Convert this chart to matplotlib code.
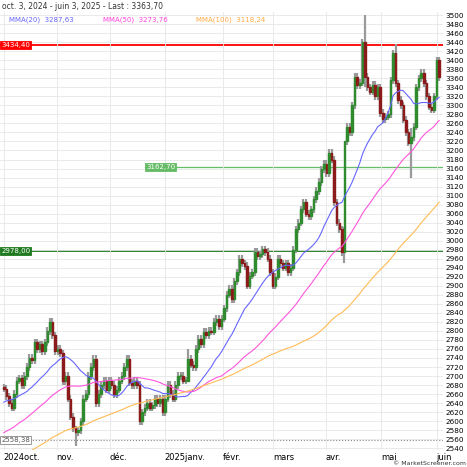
import numpy as np
import pandas as pd
from matplotlib import pyplot as plt
from matplotlib.patches import Rectangle

# closes before the visible window (only used to seed the moving averages)
history = [2410, 2420, 2405, 2395, 2415, 2430, 2425, 2440, 2435, 2420,
           2410, 2400, 2415, 2430, 2445, 2440, 2425, 2410, 2420, 2435,
           2450, 2445, 2430, 2420, 2410, 2425, 2440, 2455, 2450, 2440,
           2430, 2445, 2460, 2455, 2440, 2430, 2420, 2435, 2450, 2465,
           2470, 2460, 2450, 2440, 2455, 2470, 2480, 2475, 2460, 2450,
           2465, 2480, 2495, 2490, 2475, 2465, 2480, 2500, 2510, 2505,
           2495, 2510, 2525, 2520, 2510, 2530, 2545, 2540, 2525, 2535,
           2550, 2560, 2555, 2540, 2555, 2570, 2565, 2580, 2590, 2585,
           2590, 2600, 2610, 2605, 2620, 2630, 2615, 2625, 2640, 2650,
           2635, 2645, 2660, 2655, 2640, 2650, 2665, 2680, 2670, 2675]

closes = [2672, 2655, 2640, 2630, 2660, 2690, 2695, 2680, 2700, 2720,
          2740, 2735, 2775, 2760, 2770, 2755, 2775, 2800, 2820, 2790,
          2755, 2760, 2750, 2688, 2700, 2650, 2610, 2584, 2575, 2580,
          2600, 2650, 2660, 2700, 2720, 2738, 2640, 2660, 2680, 2690,
          2670, 2690, 2680, 2660, 2670, 2690, 2700, 2720, 2738, 2685,
          2680, 2690, 2680, 2600, 2620, 2630, 2640, 2630, 2635, 2650,
          2640, 2650, 2620, 2650, 2680, 2660, 2650, 2680, 2700, 2700,
          2690, 2690, 2738, 2725, 2720, 2760, 2783, 2770, 2798, 2790,
          2800, 2798, 2820, 2827, 2810, 2827, 2850, 2880, 2893, 2870,
          2910, 2930, 2960, 2950, 2944, 2900, 2922, 2930, 2975, 2965,
          2970, 2981, 2975, 2960, 2930, 2900, 2920, 2960, 2950, 2940,
          2950, 2930, 2940, 2980, 3025, 3040, 3070, 3085, 3060, 3054,
          3070, 3092, 3110, 3130, 3158, 3170, 3150, 3195, 3180, 3085,
          3040, 3025, 2975, 3220, 3253, 3240, 3300, 3363, 3345, 3350,
          3440, 3363, 3340, 3330, 3345, 3320, 3340, 3283, 3270, 3275,
          3280, 3356, 3415, 3349, 3312, 3300, 3268, 3240, 3217, 3230,
          3253, 3340, 3360, 3372, 3349, 3320, 3297, 3290, 3320, 3400,
          3363]

# notable long shadows (index: (low, high))
long_wicks = {28: (2545, 2590), 72: (2700, 2760), 133: (2950, 3030),
              141: (3340, 3500), 153: (3340, 3435), 159: (3140, 3250)}

month_labels = ['2024oct.', 'nov.', 'déc.', '2025janv.', 'févr.', 'mars', 'avr.', 'mai', 'juin']
# value, colour, label, line width, style, start index of the line
levels = [(3434.40, '#ff0000', '3434,40', 1.3, '-', -1.5),
          (3162.70, '#66bb66', '3162,70', 0.9, '-', 55),
          (2978.00, '#1f7a1f', '2978,00', 1.3, '-', -1.5),
          (2558.38, '#888888', '2558,38', 0.8, ':', -1.5)]

s = pd.Series(history + closes, dtype=float)
n_hist = len(history)
ma20 = s.rolling(20).mean().to_numpy()[n_hist:]
ma50 = s.rolling(50).mean().to_numpy()[n_hist:]
ma100 = s.rolling(100).mean().to_numpy()[n_hist:]

n = len(closes)
x = np.arange(n)
opens = [history[-1]] + closes[:-1]

fig = plt.figure(figsize=(4.67, 4.67), dpi=100)
ax = fig.add_axes([0.0, 17 / 467, 443 / 467, 1 - 29 / 467])
ax.set_xlim(-1.5, n + 0.5)
ax.set_ylim(2536, 3507)

# month starts, mapped onto the candle index
dates = pd.bdate_range('2024-10-03', '2025-06-03')
scale = (n - 1) / (len(dates) - 1)
month_pos = [0] + [i * scale for i in range(1, len(dates)) if dates[i].month != dates[i - 1].month]
ax.set_xticks(month_pos)
ax.set_xticklabels(month_labels[:len(month_pos)], fontsize=6, ha='left')
ax.set_yticks(np.arange(2540, 3501, 20))
ax.yaxis.tick_right()
ax.tick_params(axis='y', labelsize=5.2, length=0, pad=2)
ax.tick_params(axis='x', length=0, pad=2)
ax.grid(True, color='#e6e6e6', lw=0.6)
for sp in ax.spines.values():
    sp.set_visible(False)

for i in range(n):
    o, c = opens[i], closes[i]
    lo, hi = min(o, c) - 8, max(o, c) + 8
    if i in long_wicks:
        lo, hi = long_wicks[i]
    ax.plot([i, i], [lo, hi], color='#9a9a9a', lw=1.6, zorder=2, solid_capstyle='butt')
    col = '#2e8b2e' if c >= o else '#8b1a1a'
    ax.add_patch(Rectangle((i - 0.3, min(o, c)), 0.6, max(abs(c - o), 2), color=col, zorder=3))

ax.plot(x, ma20, color='#6666ff', lw=0.8, zorder=4)
ax.plot(x, ma50, color='#ff55dd', lw=0.8, zorder=4)
ax.plot(x, ma100, color='#ffbb55', lw=0.8, zorder=4)

for val, col, txt, lw, ls, start in levels:
    ax.plot([start, n + 0.5], [val, val], color=col, lw=lw, ls=ls, zorder=1)
    face = col if val > 2600 else 'white'
    tcol = 'white' if val > 2600 else '#555555'
    ax.text(start + 0.5, val, txt, fontsize=5, color=tcol, va='center', ha='left', zorder=6,
            bbox=dict(boxstyle='square,pad=0.15', fc=face, ec=col, lw=0.6))

fig.text(0.005, 0.995, 'oct. 3, 2024 - juin 3, 2025 - Last : 3363,70', fontsize=5.5, va='top', color='#333333')
fig.text(0.02, 0.965, 'MMA(20)  3287,63', fontsize=5, va='top', color='#6666ff')
fig.text(0.22, 0.965, 'MMA(50)  3273,76', fontsize=5, va='top', color='#ff44dd')
fig.text(0.42, 0.965, 'MMA(100)  3118,24', fontsize=5, va='top', color='#ffaa44')
fig.text(0.998, 0.002, '© MarketScreener.com', fontsize=4.5, ha='right', va='bottom', color='#333333')

fig.savefig('out.png', dpi=100)
